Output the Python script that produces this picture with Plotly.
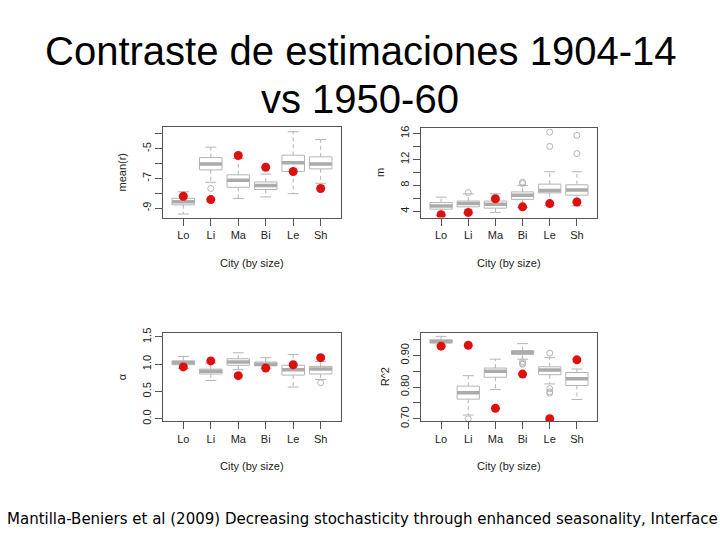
import plotly.graph_objects as go

cities = ["Lo", "Li", "Ma", "Bi", "Le", "Sh"]

# Panel 1: mean(r)
r_q1 = [-8.78, -6.43, -7.60, -7.75, -6.54, -6.36]
r_med = [-8.58, -6.03, -7.13, -7.48, -5.95, -6.03]
r_q3 = [-8.34, -5.60, -6.76, -7.24, -5.44, -5.55]
r_lo = [-9.40, -7.26, -8.36, -8.25, -8.03, -7.33]
r_hi = [-7.90, -4.90, -5.66, -6.71, -3.86, -4.38]
r_out = [[], [-7.68], [], [], [], []]
r_red = [-8.20, -8.43, -5.46, -6.25, -6.54, -7.68]

# Panel 2: m
m_q1 = [4.35, 4.70, 4.50, 5.85, 6.85, 6.50]
m_med = [4.85, 5.20, 5.10, 6.50, 7.20, 7.30]
m_q3 = [5.36, 5.60, 5.60, 7.00, 8.20, 8.10]
m_lo = [3.40, 3.70, 3.85, 4.60, 4.90, 4.85]
m_hi = [6.20, 6.70, 6.70, 8.00, 10.10, 10.10]
m_out = [[], [6.9], [], [8.3, 8.5], [14.0, 16.2], [12.9, 15.7]]
m_red = [3.50, 3.85, 5.95, 4.70, 5.20, 5.45]

# Panel 3: alpha
a_q1 = [0.99, 0.82, 0.98, 0.97, 0.80, 0.82]
a_med = [1.03, 0.87, 1.04, 1.00, 0.90, 0.91]
a_q3 = [1.06, 0.91, 1.10, 1.04, 0.98, 0.96]
a_lo = [0.92, 0.70, 0.90, 0.92, 0.58, 0.72]
a_hi = [1.14, 1.02, 1.21, 1.12, 1.18, 1.05]
a_out = [[], [], [], [], [], [0.66]]
a_red = [0.95, 1.06, 0.79, 0.93, 0.99, 1.12]

# Panel 4: R^2
s_q1 = [0.939, 0.762, 0.831, 0.903, 0.839, 0.805]
s_med = [0.944, 0.782, 0.850, 0.910, 0.854, 0.826]
s_q3 = [0.949, 0.803, 0.860, 0.915, 0.864, 0.846]
s_lo = [0.933, 0.712, 0.792, 0.888, 0.810, 0.761]
s_hi = [0.960, 0.836, 0.888, 0.937, 0.893, 0.857]
s_out = [[], [0.700], [], [0.880, 0.875, 0.872], [0.907, 0.795, 0.785, 0.781], []]
s_red = [0.929, 0.932, 0.733, 0.841, 0.700, 0.886]

BOX_HW = 0.41
CAP_HW = 0.2
GRAY = "#b4b4b4"
MED_GRAY = "#ababab"
RED = "#dd1010"

fig = go.Figure()


def add_panel(xa, ya, q1, med, q3, lo, hi, outs, red):
    xax = "x" + xa
    yax = "y" + ya
    bx, by, wx, wy, cx, cy, mx, my, ox, oy = [], [], [], [], [], [], [], [], [], []
    for i in range(len(cities)):
        p = i + 1
        bx += [p - BOX_HW, p + BOX_HW, p + BOX_HW, p - BOX_HW, p - BOX_HW, None]
        by += [q1[i], q1[i], q3[i], q3[i], q1[i], None]
        wx += [p, p, None, p, p, None]
        wy += [q3[i], hi[i], None, q1[i], lo[i], None]
        cx += [p - CAP_HW, p + CAP_HW, None, p - CAP_HW, p + CAP_HW, None]
        cy += [hi[i], hi[i], None, lo[i], lo[i], None]
        mx += [p - BOX_HW, p + BOX_HW, None]
        my += [med[i], med[i], None]
        for v in outs[i]:
            ox.append(p)
            oy.append(v)
    common = dict(xaxis=xax, yaxis=yax, showlegend=False, hoverinfo="skip")
    fig.add_trace(go.Scatter(x=wx, y=wy, mode="lines",
                             line=dict(color=GRAY, width=1, dash="4px,3px"), **common))
    fig.add_trace(go.Scatter(x=cx, y=cy, mode="lines",
                             line=dict(color=GRAY, width=1), **common))
    fig.add_trace(go.Scatter(x=bx, y=by, mode="lines", fill="toself", fillcolor="white",
                             line=dict(color=GRAY, width=1), **common))
    fig.add_trace(go.Scatter(x=mx, y=my, mode="lines",
                             line=dict(color=MED_GRAY, width=3.5), **common))
    fig.add_trace(go.Scatter(x=ox, y=oy, mode="markers",
                             marker=dict(symbol="circle-open", size=6, color=GRAY,
                                         line=dict(width=1, color=GRAY)), **common))
    fig.add_trace(go.Scatter(x=list(range(1, len(cities) + 1)), y=red, mode="markers",
                             marker=dict(size=9, color=RED), **common))


add_panel("", "", r_q1, r_med, r_q3, r_lo, r_hi, r_out, r_red)
add_panel("2", "2", m_q1, m_med, m_q3, m_lo, m_hi, m_out, m_red)
add_panel("3", "3", a_q1, a_med, a_q3, a_lo, a_hi, a_out, a_red)
add_panel("4", "4", s_q1, s_med, s_q3, s_lo, s_hi, s_out, s_red)

W, H = 720, 540
AXCOL = "#555555"
tickfont = dict(family="Liberation Sans, Arial, sans-serif", size=11, color="#222222")

panels = [
    # (suffix, x0, x1, ytop, ybot, yrange, tickvals, ticktext, ytitle, ytitle_x)
    ("", 163, 341, 125, 217, [-9.64, -3.57], [-9, -8, -7, -6, -5, -4],
     ["-9", "", "-7", "", "-5", ""], "mean(r)", 122),
    ("2", 421, 597, 126, 217, [3.05, 16.77], [4, 6, 8, 10, 12, 14, 16],
     ["4", "", "8", "", "12", "", "16"], "m", 380),
    ("3", 163, 341, 335, 425, [-0.05, 1.57], [0.0, 0.5, 1.0, 1.5],
     ["0.0", "0.5", "1.0", "1.5"], "α", 122),
    ("4", 421, 597, 335, 425, [0.692, 0.970], [0.70, 0.75, 0.80, 0.85, 0.90, 0.95],
     ["0.70", "", "0.80", "", "0.90", ""], "R^2", 385),
]

layout = dict(width=W, height=H, margin=dict(l=0, r=0, t=0, b=0),
              paper_bgcolor="white", plot_bgcolor="white", showlegend=False)
annotations = []
for suf, x0, x1, yt, yb, yr, tv, tt, ytitle, ytx in panels:
    key_x = "xaxis" + suf
    key_y = "yaxis" + suf
    layout[key_x] = dict(domain=[x0 / W, x1 / W], range=[0.26, 6.74],
                         anchor="y" + suf, tickvals=list(range(1, 7)), ticktext=cities,
                         ticks="outside", ticklen=7, tickcolor=AXCOL, tickwidth=1,
                         showline=True, mirror=True, linecolor=AXCOL, linewidth=1,
                         showgrid=False, zeroline=False, tickfont=tickfont)
    layout[key_y] = dict(domain=[1 - yb / H, 1 - yt / H], range=yr,
                         anchor="x" + suf, tickvals=tv, ticktext=tt,
                         ticks="outside", ticklen=7, tickcolor=AXCOL, tickwidth=1,
                         tickangle=-90,
                         showline=True, mirror=True, linecolor=AXCOL, linewidth=1,
                         showgrid=False, zeroline=False, tickfont=tickfont)
    annotations.append(dict(text="City (by size)", x=(x0 + x1) / 2 / W, y=1 - (yb + 46) / H,
                            xref="paper", yref="paper", showarrow=False,
                            xanchor="center", yanchor="middle",
                            font=dict(family="Liberation Sans, Arial, sans-serif", size=11,
                                      color="#222222")))
    annotations.append(dict(text=ytitle, x=ytx / W, y=1 - (yt + yb) / 2 / H,
                            xref="paper", yref="paper", showarrow=False, textangle=-90,
                            xanchor="center", yanchor="middle",
                            font=dict(family="Liberation Sans, Arial, sans-serif", size=11,
                                      color="#222222")))

annotations.append(dict(text="Contraste de estimaciones 1904-14", x=0.5, y=1 - 47 / H,
                        xref="paper", yref="paper", showarrow=False,
                        xanchor="center", yanchor="middle",
                        font=dict(family="Liberation Sans, Arial, sans-serif", size=40,
                                  color="black")))
annotations.append(dict(text="vs 1950-60", x=0.5, y=1 - 96 / H,
                        xref="paper", yref="paper", showarrow=False,
                        xanchor="center", yanchor="middle",
                        font=dict(family="Liberation Sans, Arial, sans-serif", size=40,
                                  color="black")))
annotations.append(dict(
    text="Mantilla-Beniers et al (2009) Decreasing stochasticity through enhanced seasonality, Interface",
    x=362 / W, y=1 - 525 / H, xref="paper", yref="paper", showarrow=False,
    xanchor="center", yanchor="middle",
    font=dict(family="DejaVu Sans, sans-serif", size=15, color="black")))

layout["annotations"] = annotations
fig.update_layout(**layout)
fig.write_html("out.html")
